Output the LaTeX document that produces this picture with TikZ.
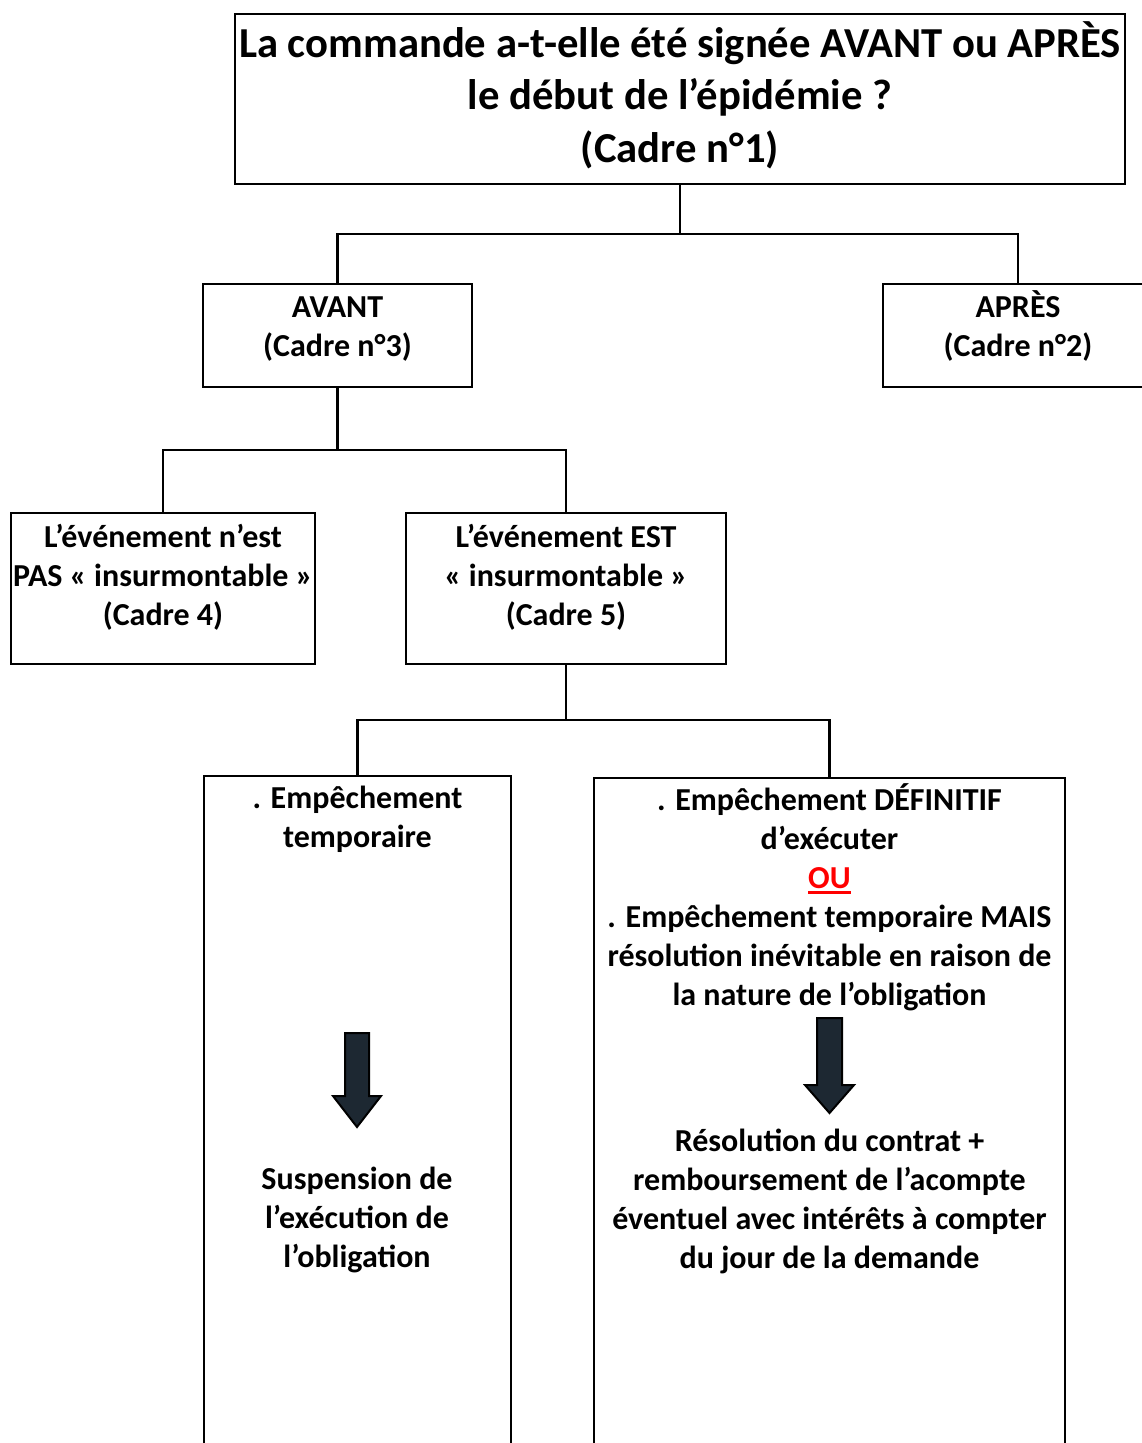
\documentclass[tikz,border=0pt]{standalone}
\usepackage{fontspec}
\setmainfont{Carlito}
\usetikzlibrary{positioning}
\definecolor{fonce}{RGB}{29,40,50}
\newcommand\souligne[1]{\setbox0\hbox{#1}\rlap{\rule[-6pt]{\wd0}{3pt}}\box0}
\newcommand\hautligne{\rule{0pt}{28pt}}
\newcommand\hauttitre{\rule{0pt}{38pt}}
\begin{document}
\begin{tikzpicture}[x=1pt,y=-1pt,
  cadre/.style={draw, line width=2.5pt, rectangle, inner sep=0pt, outer sep=0pt},
  texte/.style={anchor=north, inner sep=0pt, align=center, font=\bfseries\fontsize{32}{39}\selectfont},
  titre/.style={texte, font=\bfseries\fontsize{42.7}{52.5}\selectfont},
  lien/.style={line width=2.5pt},
  fleche/.style={draw, line width=2pt, fill=fonce, line join=miter}]
        \useasboundingbox (0,0) rectangle (1142,1443);
        \clip (0,0) rectangle (1142,1443);
        % cadres
        \node[cadre, minimum width=890pt, minimum height=170pt] (cadre1) at (680,99) {};
        \node[cadre, minimum width=269pt, minimum height=103pt] (cadre3) at (337.5,335.5) {};
        \node[cadre, minimum width=270pt, minimum height=103pt] (cadre2) at (1018,335.5) {};
        \node[cadre, minimum width=304pt, minimum height=151pt] (cadre4) at (163,588.5) {};
        \node[cadre, minimum width=320pt, minimum height=151pt] (cadre5) at (566,588.5) {};
        \node[cadre, minimum width=307pt, minimum height=694pt] (temp) at (357.5,1123) {};
        \node[cadre, minimum width=471pt, minimum height=692pt] (defin) at (829.5,1124) {};
        % liens
        \draw[lien] (cadre1.south) -- ++(0,50) -| (cadre3.north);
        \draw[lien] (cadre1.south) -- ++(0,50) -| (cadre2.north);
        \draw[lien] (cadre3.south) -- ++(0,63) -| (cadre4.north);
        \draw[lien] (cadre3.south) -- ++(0,63) -| (cadre5.north);
        \draw[lien] (cadre5.south) -- ++(0,56) -| (temp.north);
        \draw[lien] (cadre5.south) -- ++(0,56) -| (defin.north);
        % textes
        \node[titre, below=5pt of cadre1.north] (t1) {\hauttitre La commande a-t-elle été signée AVANT ou APRÈS\\le début de l’épidémie ?\\(Cadre n°1)};
        \node[texte, below=5pt of cadre3.north] (t3) {\hautligne AVANT\\(Cadre n°3)};
        \node[texte, below=5pt of cadre2.north] (t2) {\hautligne APRÈS\\(Cadre n°2)};
        \node[texte, below=6pt of cadre4.north] (t4) {\hautligne L’événement n’est\\PAS « insurmontable »\\(Cadre 4)};
        \node[texte, below=6pt of cadre5.north] (t5) {\hautligne L’événement EST\\« insurmontable »\\(Cadre 5)};
        \node[texte, below=4pt of temp.north] (ttemp) {\hautligne . Empêchement\\temporaire};
        \node[texte, below=4pt of defin.north] (tdefin) {\hautligne . Empêchement DÉFINITIF\\d’exécuter\\{\color{red}\souligne{OU}}\\. Empêchement temporaire MAIS\\résolution inévitable en raison de\\la nature de l’obligation};
        % fleche gauche
        \draw[fleche] (345,1033) -- ++(24,0) -- ++(0,63) -- ++(12,0) -- (357,1127) -- (333,1096) -- ++(12,0) -- cycle;
        % fleche droite
        \draw[fleche] (817,1018) -- ++(25,0) -- ++(0,67) -- ++(12,0) -- (829.5,1113) -- (805,1085) -- ++(12,0) -- cycle;
        % consequences
        \node[texte] (susp) at (357,1161) {\hautligne Suspension de\\l’exécution de\\l’obligation};
        \node[texte] (resol) at (829.5,1123) {\hautligne Résolution du contrat +\\remboursement de l’acompte\\éventuel avec intérêts à compter\\du jour de la demande};
\end{tikzpicture}
\end{document}
